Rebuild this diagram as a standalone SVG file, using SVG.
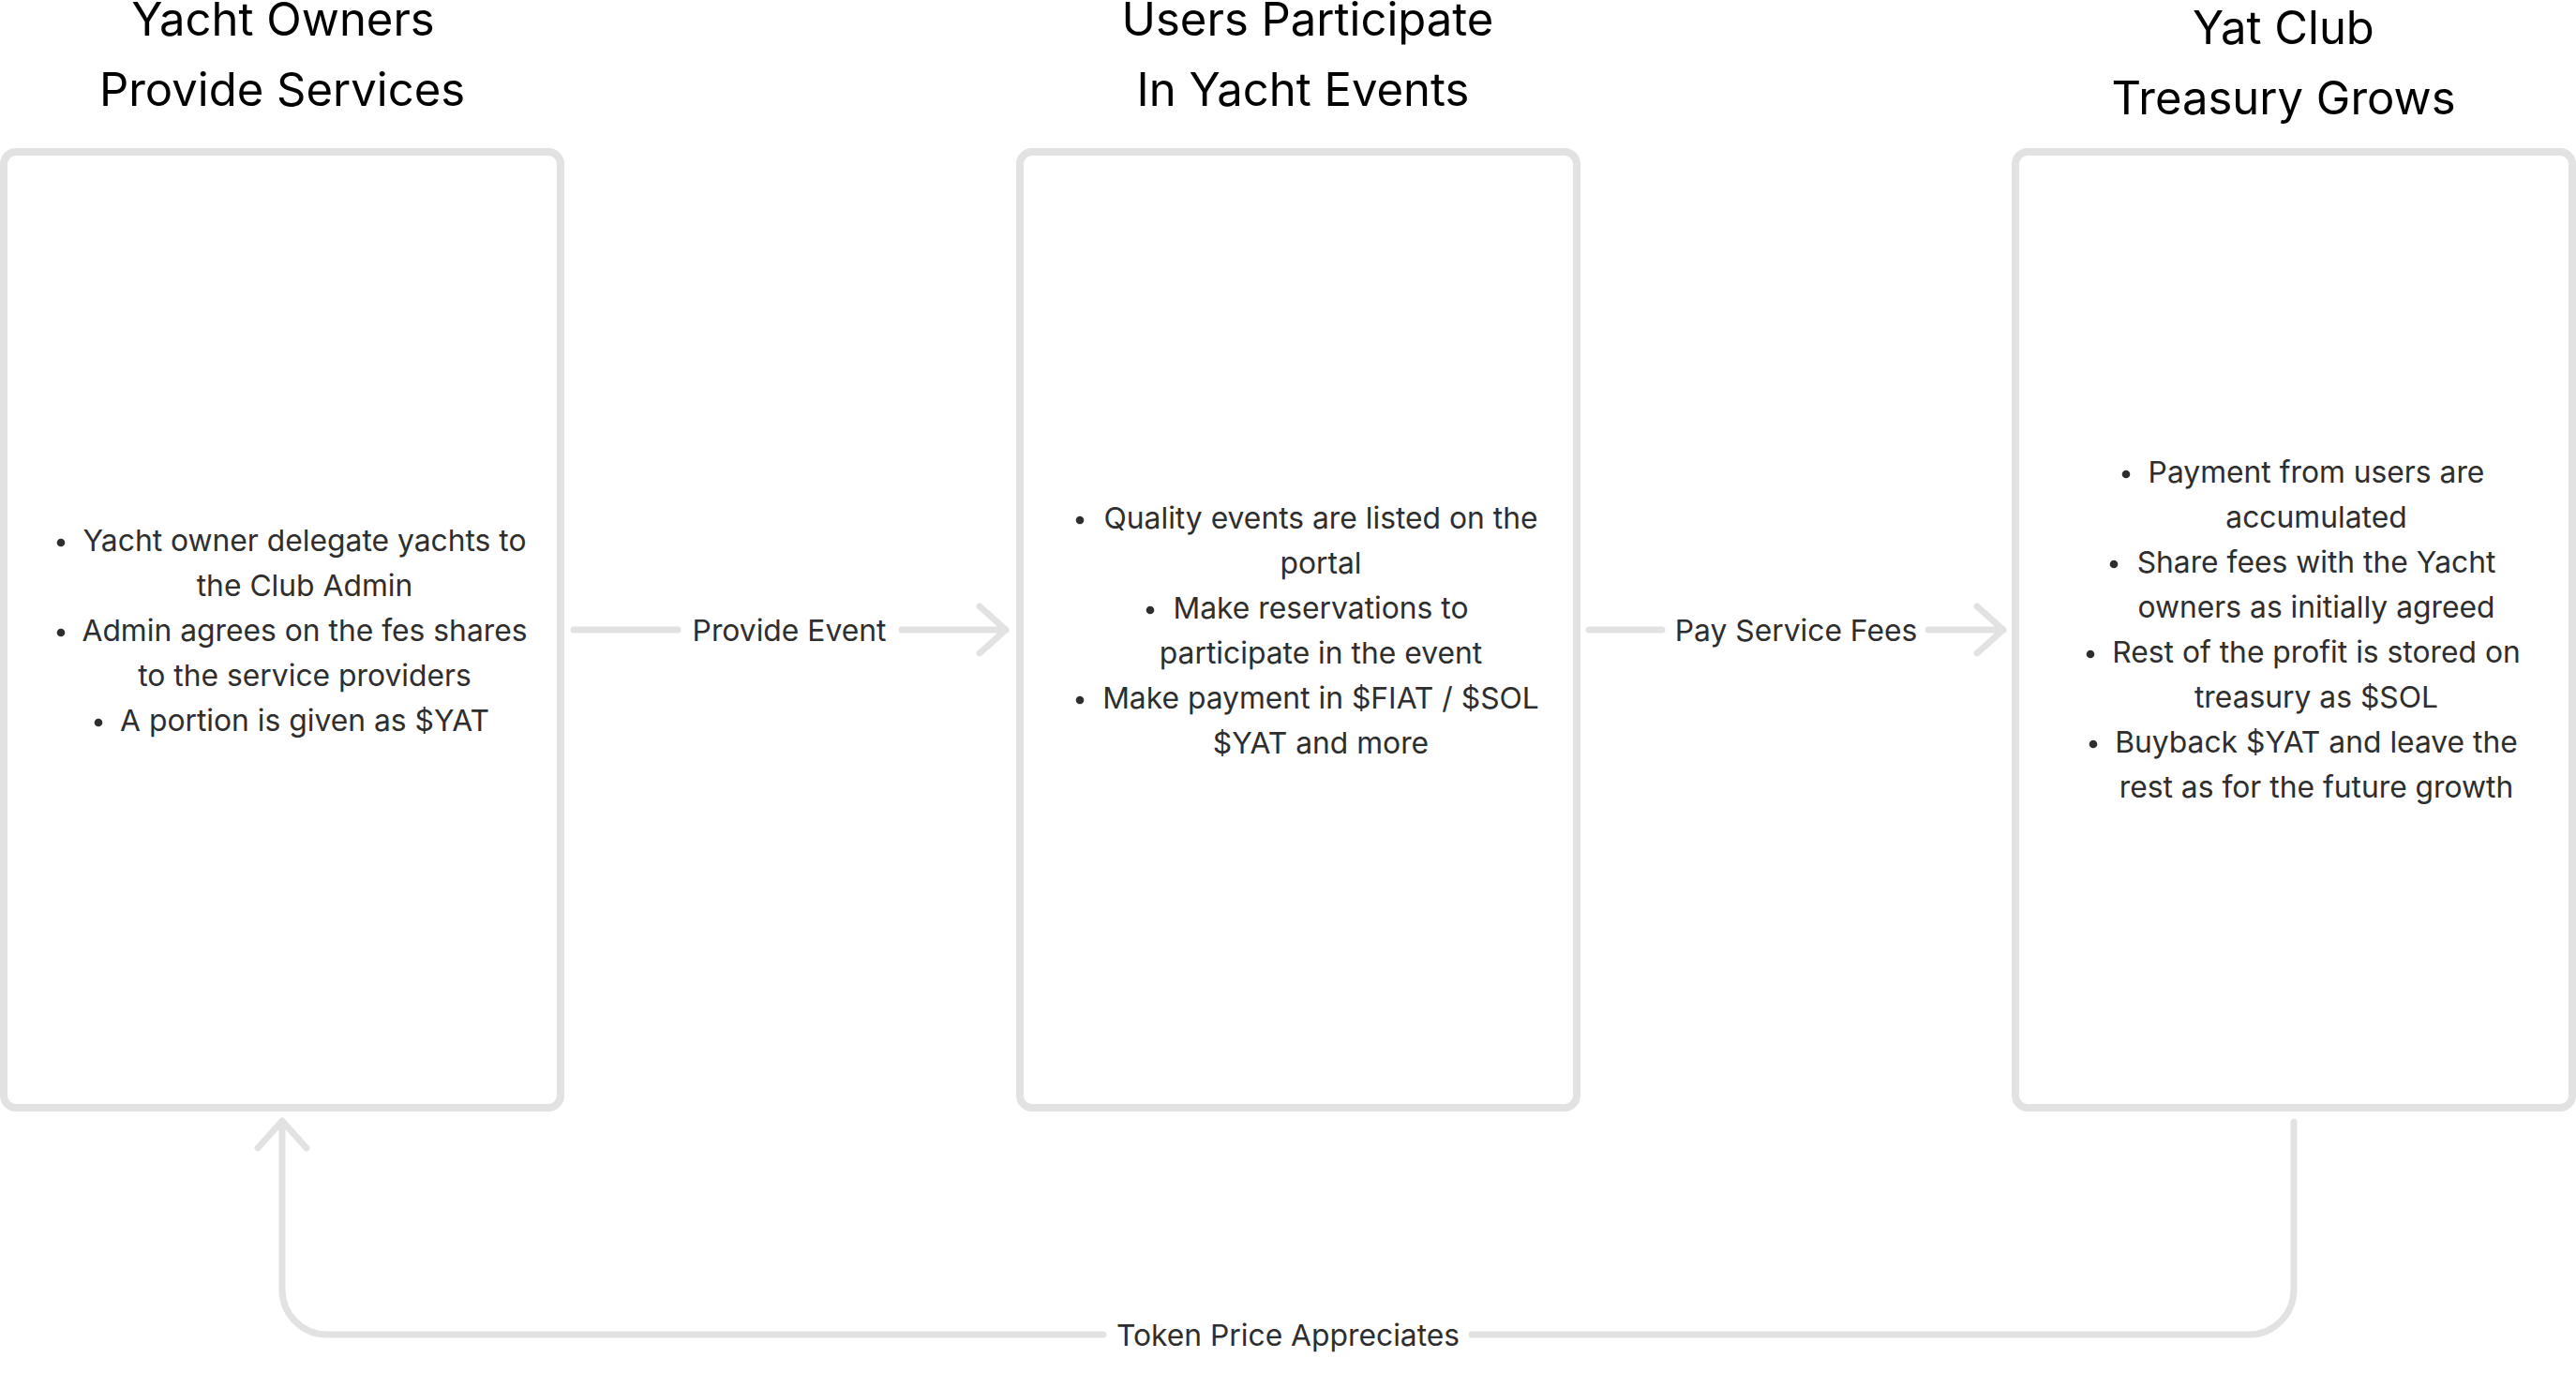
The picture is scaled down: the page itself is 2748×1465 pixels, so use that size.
<svg xmlns="http://www.w3.org/2000/svg" width="2748" height="1465" viewBox="0 0 2748 1465">
<style>
.box{fill:#fff;stroke:#e2e2e2;stroke-width:8}
.title{font-family:Inter,"Noto Sans",sans-serif;font-size:49px;fill:#000;text-anchor:middle}
.body{font-family:Inter,"Noto Sans",sans-serif;font-size:31.8px;fill:#2e2e2e;text-anchor:middle}
.lbl{font-family:Inter,"Noto Sans",sans-serif;font-size:31.8px;fill:#2e2e2e;text-anchor:middle}
.bul{fill:#2e2e2e}
.conn{fill:none;stroke:#e2e2e2;stroke-width:7;stroke-linecap:round;stroke-linejoin:round}
</style>
<rect width="2748" height="1465" fill="#fff"/>
<g id="node-yacht-owners">
<rect class="box" x="4" y="162" width="594" height="1020" rx="13"/>
<text class="title" x="302" y="38">Yacht Owners</text>
<text class="title" x="301" y="113">Provide Services</text>
<circle class="bul" cx="65" cy="579" r="4.3"/>
<text class="body" x="325" y="588">Yacht owner delegate yachts to</text>
<text class="body" x="325" y="636">the Club Admin</text>
<circle class="bul" cx="65" cy="675" r="4.3"/>
<text class="body" x="325" y="684">Admin agrees on the fes shares</text>
<text class="body" x="325" y="732">to the service providers</text>
<circle class="bul" cx="105" cy="771" r="4.3"/>
<text class="body" x="325" y="780">A portion is given as $YAT</text>
</g>
<g id="node-users-participate">
<rect class="box" x="1088" y="162" width="594" height="1020" rx="13"/>
<text class="title" x="1395" y="38">Users Participate</text>
<text class="title" x="1390" y="113">In Yacht Events</text>
<circle class="bul" cx="1152" cy="555" r="4.3"/>
<text class="body" x="1409" y="564">Quality events are listed on the</text>
<text class="body" x="1409" y="612">portal</text>
<circle class="bul" cx="1227" cy="651" r="4.3"/>
<text class="body" x="1409" y="660">Make reservations to</text>
<text class="body" x="1409" y="708">participate in the event</text>
<circle class="bul" cx="1152" cy="747" r="4.3"/>
<text class="body" x="1409" y="756">Make payment in $FIAT / $SOL</text>
<text class="body" x="1409" y="804">$YAT and more</text>
</g>
<g id="node-treasury">
<rect class="box" x="2150" y="162" width="594" height="1020" rx="13"/>
<text class="title" x="2436" y="47">Yat Club</text>
<text class="title" x="2436" y="122">Treasury Grows</text>
<circle class="bul" cx="2268" cy="506" r="4.3"/>
<text class="body" x="2471" y="515">Payment from users are</text>
<text class="body" x="2471" y="563">accumulated</text>
<circle class="bul" cx="2255" cy="602" r="4.3"/>
<text class="body" x="2471" y="611">Share fees with the Yacht</text>
<text class="body" x="2471" y="659">owners as initially agreed</text>
<circle class="bul" cx="2230" cy="698" r="4.3"/>
<text class="body" x="2471" y="707">Rest of the profit is stored on</text>
<text class="body" x="2471" y="755">treasury as $SOL</text>
<circle class="bul" cx="2233" cy="794" r="4.3"/>
<text class="body" x="2471" y="803">Buyback $YAT and leave the</text>
<text class="body" x="2471" y="851">rest as for the future growth</text>
</g>
<g id="connectors">
<g id="edge-provide-event">
<path class="conn" d="M612 672H723M962 672H1073M1045 647L1073 672L1045 697"/>
<text class="lbl" x="842" y="684">Provide Event</text>
</g>
<g id="edge-pay-service-fees">
<path class="conn" d="M1695 672H1773M2057 672H2137M2109 647L2137 672L2109 697"/>
<text class="lbl" x="1916" y="684">Pay Service Fees</text>
</g>
<g id="edge-token-price">
<path class="conn" d="M2447 1197V1376A48 48 0 0 1 2399 1424H1570M1177 1424H349A48 48 0 0 1 301 1376V1197M275 1225L301 1196L327 1225"/>
<text class="lbl" x="1374" y="1436">Token Price Appreciates</text>
</g>
</g>
</svg>
